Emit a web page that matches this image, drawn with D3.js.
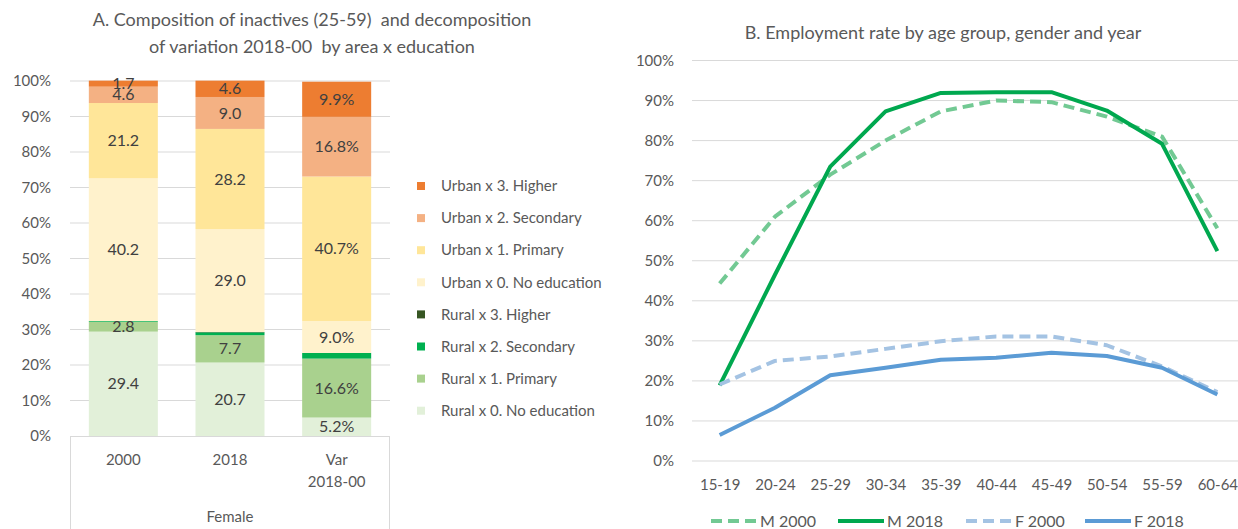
<!DOCTYPE html>
<html>
<head>
<meta charset="utf-8">
<script src="https://cdn.jsdelivr.net/npm/d3@7"></script>
<style>
  body { margin: 0; background: #fff; }
  text { font-family: Lato, "Open Sans", sans-serif; fill: #595959; }
</style>
</head>
<body>
<div id="chart"></div>
<script>
// panel A data (share of female inactives, %)
const groups = ['2000', '2018', 'Var'];
const groupSub = ['', '', '2018-00'];
const segNames = ['Rural x 0. No education', 'Rural x 1. Primary', 'Rural x 2. Secondary', 'Rural x 3. Higher',
  'Urban x 0. No education', 'Urban x 1. Primary', 'Urban x 2. Secondary', 'Urban x 3. Higher'];
const segColors = ['#e2f0d9', '#a9d18e', '#00b050', '#375623', '#fff2cc', '#ffe699', '#f4b183', '#ed7d31'];
const v2000 = [29.4, 2.8, 0.2, 0.0, 40.2, 21.2, 4.6, 1.7];
const v2018 = [20.7, 7.7, 0.8, 0.1, 29.0, 28.2, 9.0, 4.6];
const vVar = [5.2, 16.6, 1.6, 0.0, 9.0, 40.7, 16.8, 9.9];
const showLabel = [true, true, false, false, true, true, true, true];
const pctTicks = [0, 10, 20, 30, 40, 50, 60, 70, 80, 90, 100];

// panel B data (employment rate, %)
const ageGroups = ['15-19', '20-24', '25-29', '30-34', '35-39', '40-44', '45-49', '50-54', '55-59', '60-64'];
const m2000 = [44.3, 61.0, 71.5, 80.0, 87.3, 90.0, 89.6, 86.0, 81.0, 58.1];
const m2018 = [18.9, 46.5, 73.5, 87.3, 91.9, 92.1, 92.1, 87.5, 79.2, 52.4];
const f2000 = [19.1, 25.0, 26.1, 28.0, 29.9, 31.1, 31.1, 28.9, 23.6, 17.2];
const f2018 = [6.5, 13.3, 21.4, 23.3, 25.3, 25.8, 27.0, 26.2, 23.3, 16.6];
const lineSeries = [
  { name: 'M 2000', values: m2000, color: '#72c993', dash: '11,6' },
  { name: 'M 2018', values: m2018, color: '#00a84f', dash: null },
  { name: 'F 2000', values: f2000, color: '#a4c3e3', dash: '11,6' },
  { name: 'F 2018', values: f2018, color: '#5b9bd5', dash: null }
];

const svg = d3.select('#chart').append('svg')
  .attr('width', 1238)
  .attr('height', 529);

svg.append('rect').attr('width', 1238).attr('height', 529).attr('fill', '#fff');

// ---------- Panel A ----------
const a = svg.append('g');
const ax0 = 70, ax1 = 390, ay0 = 436, ay1 = 81;
const xA = d3.scaleBand().domain(groups).range([ax0, ax1]).paddingInner(0.353).paddingOuter(0.1765);
const yA = d3.scaleLinear().domain([0, 100]).range([ay0, ay1]);

a.append('text').attr('x', 312).attr('y', 26).attr('text-anchor', 'middle').style('font-size', '18px')
  .style('white-space', 'pre')
  .text('A. Composition of inactives (25-59)  and decomposition');
a.append('text').attr('x', 312).attr('y', 53).attr('text-anchor', 'middle').style('font-size', '18px')
  .style('white-space', 'pre')
  .text('of variation 2018-00  by area x education');

a.append('g').selectAll('line').data(pctTicks.slice(1)).enter().append('line')
  .attr('x1', ax0).attr('x2', ax1)
  .attr('y1', d => yA(d)).attr('y2', d => yA(d))
  .attr('stroke', '#d9d9d9').attr('stroke-width', 1);

const yAxisA = a.append('g').attr('transform', `translate(${ax0 - 16},0)`)
  .call(d3.axisLeft(yA).tickValues(pctTicks).tickSize(0).tickFormat(d => d + '%'));
yAxisA.select('.domain').remove();
yAxisA.selectAll('text').style('font-size', '15px').style('font-family', 'Lato').attr('fill', '#595959');

const rows = groups.map((g, i) => {
  const vals = [v2000, v2018, vVar][i];
  const r = { group: g };
  segNames.forEach((s, j) => { r[s] = vals[j]; });
  return r;
});
const stacked = d3.stack().keys(segNames)(rows);

stacked.forEach((layer, j) => {
  a.append('g').selectAll('rect').data(layer).enter().append('rect')
    .attr('x', d => xA(d.data.group))
    .attr('width', xA.bandwidth())
    .attr('y', d => yA(d[1]))
    .attr('height', d => yA(d[0]) - yA(d[1]))
    .attr('fill', segColors[j]);
});

stacked.forEach((layer, j) => {
  if (!showLabel[j]) return;
  a.append('g').selectAll('text').data(layer).enter().append('text')
    .attr('x', d => xA(d.data.group) + xA.bandwidth() / 2)
    .attr('y', d => yA((d[0] + d[1]) / 2))
    .attr('dy', '0.35em')
    .attr('text-anchor', 'middle')
    .style('font-size', '16px')
    .style('fill', '#404040')
    .text(d => {
      const v = d[1] - d[0];
      return d.data.group === 'Var' ? v.toFixed(1) + '%' : v.toFixed(1);
    });
});

// category axis box
a.append('line').attr('x1', ax0).attr('x2', ax1).attr('y1', ay0 + 0.5).attr('y2', ay0 + 0.5).attr('stroke', '#d9d9d9');
a.append('line').attr('x1', ax0 + 0.5).attr('x2', ax0 + 0.5).attr('y1', ay0).attr('y2', 529).attr('stroke', '#d9d9d9');
a.append('line').attr('x1', ax1 - 0.5).attr('x2', ax1 - 0.5).attr('y1', ay0).attr('y2', 529).attr('stroke', '#d9d9d9');
groups.forEach((g, i) => {
  const cx = xA(g) + xA.bandwidth() / 2;
  a.append('text').attr('x', cx).attr('y', 460).attr('dy', '0.35em').attr('text-anchor', 'middle')
    .style('font-size', '15px').text(g);
  if (groupSub[i]) {
    a.append('text').attr('x', cx).attr('y', 482).attr('dy', '0.35em').attr('text-anchor', 'middle')
      .style('font-size', '15px').text(groupSub[i]);
  }
});
a.append('text').attr('x', (ax0 + ax1) / 2).attr('y', 517).attr('dy', '0.35em').attr('text-anchor', 'middle')
  .style('font-size', '15px').text('Female');

// legend A (top entry = last series)
const legA = a.append('g');
segNames.slice().reverse().forEach((s, k) => {
  const j = segNames.length - 1 - k;
  const cy = 186 + k * 32.1;
  legA.append('rect').attr('x', 417).attr('y', cy - 4).attr('width', 8).attr('height', 8).attr('fill', segColors[j]);
  legA.append('text').attr('x', 441).attr('y', cy).attr('dy', '0.35em').style('font-size', '15px').text(s);
});

// ---------- Panel B ----------
const b = svg.append('g');
const bx0 = 692, bx1 = 1245, by0 = 461, by1 = 60.5;
const xB = d3.scalePoint().domain(ageGroups).range([bx0, bx1]).padding(0.5);
const yB = d3.scaleLinear().domain([0, 100]).range([by0, by1]);

b.append('text').attr('x', 943).attr('y', 33).attr('dy', '0.35em').attr('text-anchor', 'middle').style('font-size', '18px')
  .text('B. Employment rate by age group, gender and year');

b.append('g').selectAll('line').data(pctTicks).enter().append('line')
  .attr('x1', bx0).attr('x2', bx1)
  .attr('y1', d => yB(d)).attr('y2', d => yB(d))
  .attr('stroke', '#d9d9d9').attr('stroke-width', 1);

const yAxisB = b.append('g').attr('transform', `translate(${bx0 - 15},0)`)
  .call(d3.axisLeft(yB).tickValues(pctTicks).tickSize(0).tickFormat(d => d + '%'));
yAxisB.select('.domain').remove();
yAxisB.selectAll('text').style('font-size', '15px').style('font-family', 'Lato').attr('fill', '#595959');

const xAxisB = b.append('g').attr('transform', `translate(0,${by0 + 15})`)
  .call(d3.axisBottom(xB).tickSize(0));
xAxisB.select('.domain').remove();
xAxisB.selectAll('text').style('font-size', '15px').style('font-family', 'Lato').attr('fill', '#595959');

const line = d3.line().x((d, i) => xB(ageGroups[i])).y(d => yB(d));
lineSeries.forEach(s => {
  b.append('path').datum(s.values)
    .attr('d', line)
    .attr('fill', 'none')
    .attr('stroke', s.color)
    .attr('stroke-width', 4)
    .attr('stroke-linejoin', 'round')
    .attr('stroke-dasharray', s.dash);
});

// legend B
const legX = [711, 838, 966, 1085];
lineSeries.forEach((s, i) => {
  b.append('line').attr('x1', legX[i]).attr('x2', legX[i] + 46).attr('y1', 521).attr('y2', 521)
    .attr('stroke', s.color).attr('stroke-width', 4).attr('stroke-dasharray', s.dash);
  b.append('text').attr('x', legX[i] + 49).attr('y', 521).attr('dy', '0.35em').style('font-size', '16px').text(s.name);
});
</script>
</body>
</html>
